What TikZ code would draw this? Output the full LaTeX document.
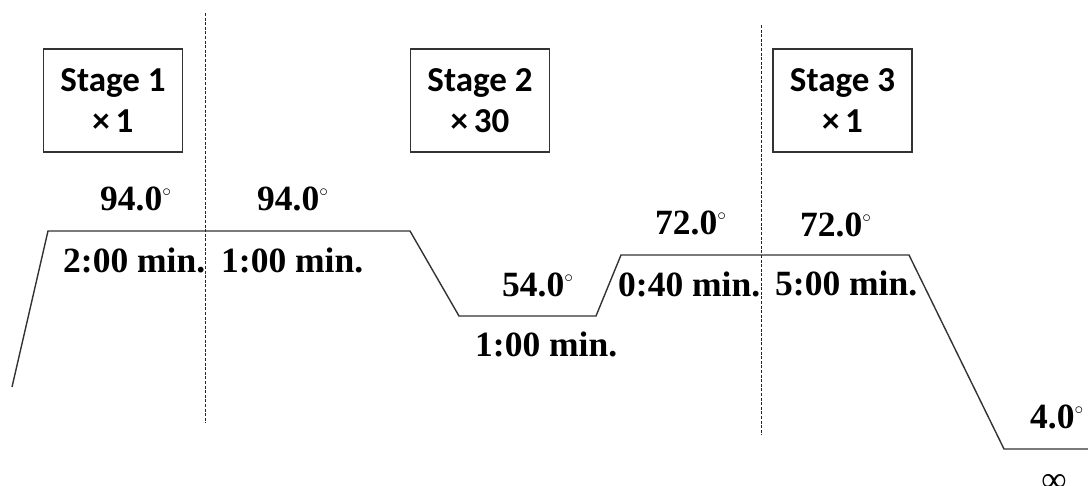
\documentclass[tikz,border=0pt]{standalone}
\usepackage{fontspec}
\setmainfont{Liberation Serif}
\newfontfamily\stagefont{Carlito}
\newcommand\dgr{\raisebox{14pt}{\fontsize{17}{17}\selectfont$\circ$}}
\begin{document}
\begin{tikzpicture}[x=1pt,y=-1pt,
  profile/.style={draw=black!80,line width=1.4pt,line join=miter},
  divider/.style={draw=black!85,line width=0.9pt,dash pattern=on 3pt off 1.6pt},
  stagebox/.style={draw=black!80,line width=1.6pt,minimum width=139pt,minimum height=103pt,
    inner sep=0pt,align=center,font=\stagefont\fontsize{35}{43}\selectfont\bfseries},
  lbl/.style={anchor=base west,inner sep=0pt,font=\fontsize{35.5}{40}\selectfont\bfseries}]
\useasboundingbox (0,0) rectangle (1088,486);
\clip (0,0) rectangle (1088,486);
% profile vertices
\coordinate (p0) at (12,387);
\coordinate (p1) at (48,231);
\coordinate (p2) at (410,231);
\coordinate (p3) at (459,316);
\coordinate (p4) at (596,316);
\coordinate (p5) at (621,255);
\coordinate (p6) at (909,255);
\coordinate (p7) at (1004,449);
\coordinate (p8) at (1088,449);
\draw[profile] (p0) -- (p1) -- (p2) -- (p3) -- (p4) -- (p5) -- (p6) -- (p7) -- (p8);
% dividers
\coordinate (d1t) at (205,13);
\coordinate (d1b) at (205,423);
\coordinate (d2t) at (761,25);
\coordinate (d2b) at (761,435);
\draw[divider] (d1t) -- (d1b);
\draw[divider] (d2t) -- (d2b);
% stage boxes
\node[stagebox] (s1) at (113,100.5) {Stage 1\\[-2pt]×\,1};
\node[stagebox] (s2) at (480,100.5) {Stage 2\\[-2pt]×\,30};
\node[stagebox] (s3) at (842.5,100.5) {Stage 3\\[-2pt]×\,1};
% labels
\node[lbl] (t1) at (100,211) {94.0\dgr};
\node[lbl] (t2) at (257,211) {94.0\dgr};
\node[lbl] (m1) at (63,273) {2:00 min.};
\node[lbl] (m2) at (221,273) {1:00 min.};
\node[lbl] (t3) at (502,297) {54.0\dgr};
\node[lbl] (m3) at (475,357) {1:00 min.};
\node[lbl] (t4) at (655,235) {72.0\dgr};
\node[lbl] (m4) at (618,297) {0:40 min.};
\node[lbl] (t5) at (800,237) {72.0\dgr};
\node[lbl] (m5) at (775,296) {5:00 min.};
\node[lbl] (t6) at (1030,429) {4.0\dgr};
\node[lbl,anchor=north,font=\fontsize{35.5}{40}\selectfont] (inf) at (1054,474) {∞};
\end{tikzpicture}
\end{document}
